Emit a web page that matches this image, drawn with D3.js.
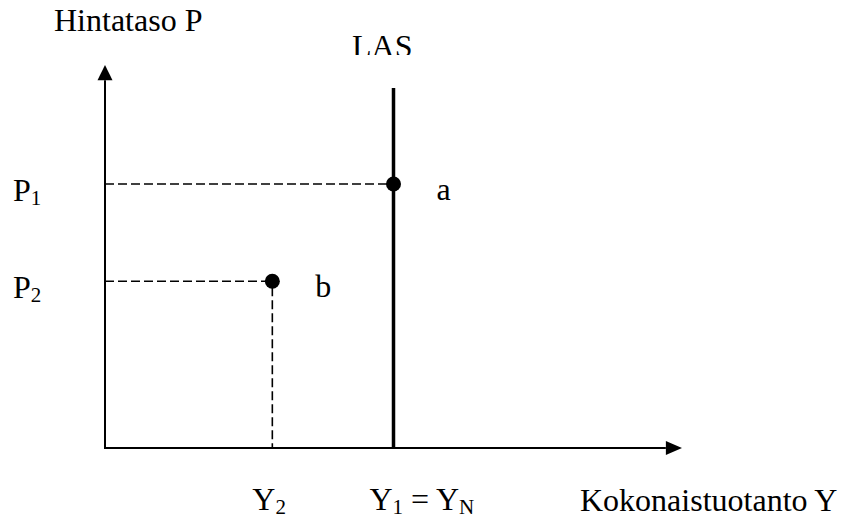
<!DOCTYPE html>
<html>
<head>
<meta charset="utf-8">
<script src="https://cdn.jsdelivr.net/npm/d3@7"></script>
<style>
  body { margin: 0; background: #fff; }
  text { font-family: "Liberation Serif", "Times New Roman", serif; fill: #000; }
</style>
</head>
<body>
<div id="chart"></div>
<script>
// data (axis units 0..100)
var pointNames = ["a", "b"];
var outputs = [50, 29];        // Y1 = YN, Y2
var prices = [69, 43.7];       // P1, P2
var priceLabels = [["P", "1"], ["P", "2"]];
var outputLabels = [[["Y", "2"]], [["Y", "1"], [" = Y", "N"]]];
var outputLabelAt = [29, 50];
var lasTop = 94;
var yTitle = "Hintataso P";
var xTitle = "Kokonaistuotanto Y";
var lasLabel = "LAS";

var svgWidth = 842;
var svgHeight = 519;

var svg = d3.select("#chart")
    .append("svg")
    .attr("width", svgWidth)
    .attr("height", svgHeight);

var x = d3.scaleLinear().domain([0, 100]).range([105, 682]);
var y = d3.scaleLinear().domain([0, 100]).range([449, 65]);

var defs = svg.append("defs");
defs.append("clipPath").attr("id", "clipLas")
    .append("rect").attr("x", 330).attr("y", 0).attr("width", 100).attr("height", 55);

// axes
svg.append("line")
    .attr("x1", x(0)).attr("y1", y(0))
    .attr("x2", x(0)).attr("y2", y(96))
    .attr("stroke", "#000").attr("stroke-width", 2);
svg.append("path")
    .attr("d", `M${x(0) - 7.5},${y(96)} L${x(0) + 7.5},${y(96)} L${x(0)},${y(100)} Z`)
    .attr("fill", "#000");

svg.append("line")
    .attr("x1", x(0) - 1).attr("y1", y(0) - 1)
    .attr("x2", x(97.2)).attr("y2", y(0) - 1)
    .attr("stroke", "#000").attr("stroke-width", 2);
svg.append("path")
    .attr("d", `M${x(97.2)},${y(0) - 8} L${x(97.2)},${y(0) + 6} L${x(100)},${y(0) - 1} Z`)
    .attr("fill", "#000");

// dashed guides
var dash = "9,4";
pointNames.forEach(function(d, i) {
    svg.append("line")
        .attr("x1", x(0)).attr("y1", y(prices[i]))
        .attr("x2", x(outputs[i])).attr("y2", y(prices[i]))
        .attr("stroke", "#000").attr("stroke-width", 1.6)
        .attr("stroke-dasharray", dash);
});
svg.append("line")
    .attr("x1", x(outputs[1])).attr("y1", y(prices[1]))
    .attr("x2", x(outputs[1])).attr("y2", y(0))
    .attr("stroke", "#000").attr("stroke-width", 1.6)
    .attr("stroke-dasharray", dash)
    .attr("stroke-dashoffset", -6);

// LAS
svg.append("line")
    .attr("x1", x(outputs[0])).attr("y1", y(lasTop))
    .attr("x2", x(outputs[0])).attr("y2", y(0))
    .attr("stroke", "#000").attr("stroke-width", 3.5);

// points
svg.selectAll("circle")
    .data(pointNames)
    .enter()
    .append("circle")
    .attr("cx", (d, i) => x(outputs[i]))
    .attr("cy", (d, i) => y(prices[i]))
    .attr("r", 7.5)
    .attr("fill", "#000");

svg.selectAll(".pname")
    .data(pointNames)
    .enter()
    .append("text")
    .attr("class", "pname")
    .attr("x", (d, i) => x(outputs[i]) + 43)
    .attr("y", (d, i) => y(prices[i]) + 16)
    .attr("font-size", "32px")
    .text(d => d);

// labels with subscripts
function subText(sel, parts) {
    parts.forEach(function(p, k) {
        sel.append("tspan").attr("font-size", "32px").attr("dy", k === 0 ? 0 : -4).text(p[0]);
        sel.append("tspan").attr("font-size", "21px").attr("dy", 4).text(p[1]);
    });
}

priceLabels.forEach(function(p, i) {
    var t = svg.append("text")
        .attr("x", 13)
        .attr("y", y(prices[i]) + 17);
    subText(t, [p]);
});

outputLabels.forEach(function(parts, i) {
    var t = svg.append("text")
        .attr("x", x(outputLabelAt[i]) - (i === 0 ? 20 : 24))
        .attr("y", 510);
    subText(t, parts);
});

// titles
svg.append("text")
    .attr("x", 54).attr("y", 31)
    .attr("font-size", "32px")
    .text(yTitle);

svg.append("text")
    .attr("x", 352).attr("y", 57)
    .attr("font-size", "32px")
    .attr("clip-path", "url(#clipLas)")
    .text(lasLabel);

svg.append("text")
    .attr("x", 580).attr("y", 511)
    .attr("font-size", "32px")
    .text(xTitle);
</script>
</body>
</html>
